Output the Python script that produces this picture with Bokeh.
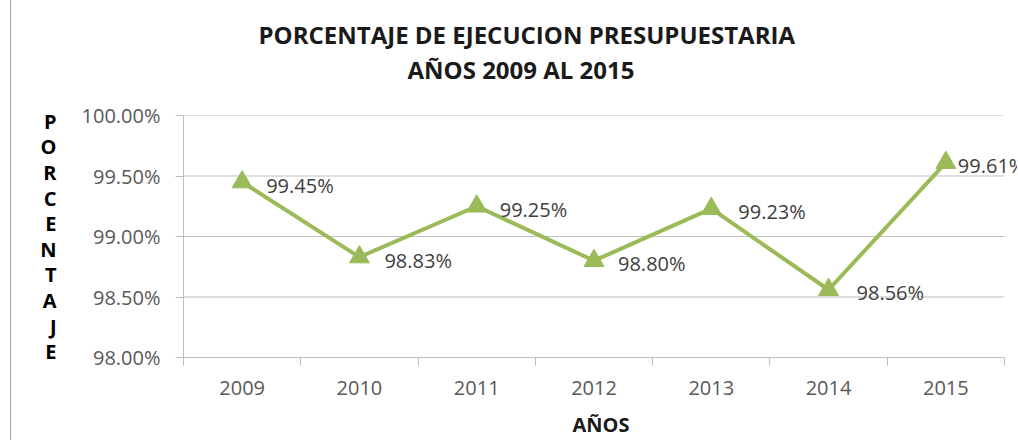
from bokeh.plotting import figure
from bokeh.models import (ColumnDataSource, Range1d, FixedTicker,
                          PrintfTickFormatter, LabelSet, Title)
from bokeh.core.properties import value
from bokeh.embed import file_html
from bokeh.resources import INLINE

# ---- data ----
years = [2009, 2010, 2011, 2012, 2013, 2014, 2015]
values = [99.45, 98.83, 99.25, 98.80, 99.23, 98.56, 99.61]
value_labels = [f"{v:.2f}%" for v in values]
y_ticks = [98.0, 98.5, 99.0, 99.5, 100.0]
title_lines = ["PORCENTAJE DE EJECUCION PRESUPUESTARIA", "AÑOS 2009 AL 2015"]
x_title = "AÑOS"
y_title = "PORCENTAJE"

# styling: label horizontal offsets (px)
label_dx = [24, 25, 23, 24, 27, 28, 12]

GREEN = "#9BBB59"
GRID = "#BFBFBF"
FONT = "Open Sans"

x_lo = years[0] - 0.5
x_hi = years[-1] + 0.5
# the frame runs on past the last category (to the window edge), as in the reference
x_end = x_hi + len(years) * 14 / 821

src = ColumnDataSource(dict(year=years, value=values, label=value_labels, dx=label_dx))

p = figure(width=1007, height=440,
           x_range=Range1d(x_lo, x_end),
           y_range=Range1d(y_ticks[0], y_ticks[-1]),
           output_backend="svg", toolbar_location=None,
           min_border_left=172, min_border_right=0,
           min_border_top=115, min_border_bottom=83)
p.styles = {"margin-left": "10px", "border-left": "1px solid #A6A6A6"}
p.outline_line_color = None
p.background_fill_color = "white"
p.border_fill_color = "white"
p.title.visible = False

# x axis
p.xaxis.bounds = (x_lo, x_hi)
p.xaxis.ticker = FixedTicker(ticks=years,
                             minor_ticks=[y - 0.5 for y in years] + [x_hi])
p.xaxis.major_tick_line_color = None
p.xaxis.minor_tick_in = 0
p.xaxis.minor_tick_out = 8
p.xaxis.minor_tick_line_color = GRID
p.xaxis.axis_line_color = GRID
p.xaxis.major_label_standoff = 15
p.xaxis.major_label_text_font = FONT
p.xaxis.major_label_text_font_size = "20px"
p.xaxis.major_label_text_color = "#595959"
p.xaxis.axis_label = x_title
p.xaxis.axis_label_text_font = FONT
p.xaxis.axis_label_text_font_size = "20px"
p.xaxis.axis_label_text_font_style = "bold"
p.xaxis.axis_label_text_color = "#1a1a1a"
p.xaxis.axis_label_standoff = 13

# y axis
p.yaxis.ticker = FixedTicker(ticks=y_ticks)
p.yaxis.formatter = PrintfTickFormatter(format="%.2f%%")
p.yaxis.minor_tick_line_color = None
p.yaxis.major_tick_in = 0
p.yaxis.major_tick_out = 8
p.yaxis.major_tick_line_color = GRID
p.yaxis.axis_line_color = GRID
p.yaxis.major_label_standoff = 15
p.yaxis.major_label_text_font = FONT
p.yaxis.major_label_text_font_size = "20px"
p.yaxis.major_label_text_color = "#595959"
p.yaxis.axis_label = "\n".join(y_title)
p.yaxis.axis_label_orientation = "horizontal"
p.yaxis.axis_label_text_font = FONT
p.yaxis.axis_label_text_font_size = "20px"
p.yaxis.axis_label_text_font_style = "bold"
p.yaxis.axis_label_text_color = "black"
p.yaxis.axis_label_text_line_height = 0.95
p.yaxis.axis_label_standoff = 22

# grid: horizontal lines limited to the category area
p.xgrid.visible = False
p.ygrid.visible = False
p.segment(x0=[x_lo] * len(y_ticks), x1=[x_hi] * len(y_ticks),
          y0=y_ticks, y1=y_ticks, line_color=GRID, line_width=1)

# series
p.line(x="year", y="value", source=src, line_width=4, line_color=GREEN)
p.scatter(x="year", y="value", source=src, marker="triangle", size=20,
          fill_color=GREEN, line_color=GREEN)

labels = LabelSet(x="year", y="value", text="label", source=src,
                  x_offset="dx", y_offset=-3,
                  text_align="left", text_baseline="middle",
                  text_font=value(FONT), text_font_size="20px", text_color="#404040")
p.add_layout(labels)

# title: panels stack outward from the frame (spacer, line 2, line 1)
p.add_layout(Title(text=" ", text_font_size="2px", standoff=26), "above")
p.add_layout(Title(text=title_lines[1], align="left", offset=224, standoff=0,
                   text_font=FONT, text_font_size="24px", text_font_style="bold",
                   text_color="#1a1a1a"), "above")
p.add_layout(Title(text=title_lines[0], align="left", offset=75, standoff=0,
                   text_font=FONT, text_font_size="24px", text_font_style="bold",
                   text_color="#1a1a1a"), "above")

open("out.html", "w").write(file_html(p, INLINE))
